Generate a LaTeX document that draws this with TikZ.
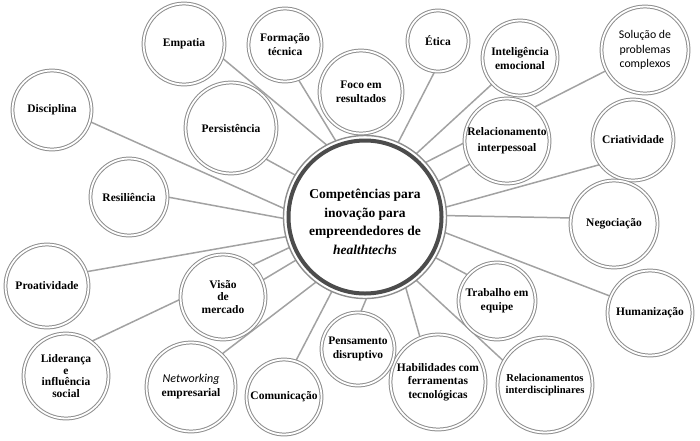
\documentclass[tikz,border=0pt]{standalone}
\usepackage{fontspec}
\setmainfont{Liberation Serif}
\newfontfamily\carlito{Carlito}
\usetikzlibrary{backgrounds}
\definecolor{ringgray}{HTML}{8E8E8E}
\definecolor{linkgray}{HTML}{A2A2A2}
\definecolor{darkring}{HTML}{4C4C4C}
\begin{document}
\begin{tikzpicture}[x=1pt,y=-1pt,
  comp/.style={circle, draw=ringgray, line width=1pt, double=white, double distance=1.8pt,
    fill=white, inner sep=0pt, outer sep=0pt, align=center,
    font=\fontsize{11.5}{14}\selectfont\bfseries, text=black},
  link/.style={draw=linkgray, line width=1.5pt}]
\useasboundingbox (0,0) rectangle (700,440);

% central circle
\node[circle, draw=ringgray, line width=1.4pt, fill=white, minimum size=163pt,
  inner sep=0pt, outer sep=0pt] (c) at (365,217) {};
\draw[darkring, line width=4pt] (c.center) circle[radius=76.5pt];
\node[font=\fontsize{13.5}{18.5}\selectfont\bfseries, align=center] (ct) at (365,222)
  {Competências para\\inovação para\\empreendedores de\\\textit{healthtechs}};

% outer circles
\node[comp, minimum size=81pt] (emp) at (184,44) {Empatia};
\node[comp, minimum size=73pt] (for) at (285,45) {Formação\\técnica};
\node[comp, minimum size=83pt] (foc) at (361,92) {Foco em\\resultados};
\node[comp, minimum size=79pt] (dis) at (52,110) {Disciplina};
\node[comp, minimum size=91pt] (per) at (231,128) {Persistência};
\node[comp, minimum size=77pt] (res) at (129,197) {Resiliência};
\node[comp, minimum size=61pt] (eti) at (438,41) {Ética};
\node[comp, minimum size=75pt] (int) at (520,58) {Inteligência\\emocional};
\node[comp, minimum size=87pt, font=\fontsize{11.8}{14.5}\selectfont\carlito\mdseries] (sol) at (645,50) {Solução de\\problemas\\complexos};
\node[comp, minimum size=85pt, font=\fontsize{11.5}{16}\selectfont\bfseries] (rel) at (507,141) {Relacionamento\\interpessoal};
\node[comp, minimum size=81pt] (cri) at (633,140) {Criatividade};
\node[comp, minimum size=87pt] (neg) at (614,224) {Negociação};
\node[comp, minimum size=85pt] (hum) at (650,313) {Humanização};
\node[comp, minimum size=77pt] (tra) at (497,301) {Trabalho em\\equipe};
\node[comp, minimum size=95pt, font=\fontsize{10.6}{12.5}\selectfont\bfseries] (rid) at (545,385) {Relacionamentos\\interdisciplinares};
\node[comp, minimum size=95pt, font=\fontsize{11.5}{13.3}\selectfont\bfseries] (hab) at (438,382) {Habilidades com\\ferramentas\\tecnológicas};
\node[comp, minimum size=73pt] (pen) at (358,349) {Pensamento\\disruptivo};
\node[comp, minimum size=75pt] (com) at (284,397) {Comunicação};
\node[comp, minimum size=89pt] (net) at (191,387) {{\fontsize{12}{14}\selectfont\carlito\mdseries\itshape Networking}\\empresarial};
\node[comp, minimum size=85pt, font=\fontsize{11.5}{11.8}\selectfont\bfseries] (lid) at (66,376) {Liderança\\e\\influência\\social};
\node[comp, minimum size=83pt] (pro) at (47,286) {Proatividade};
\node[comp, minimum size=85pt, font=\fontsize{11.5}{12.2}\selectfont\bfseries] (vis) at (223,297) {Visão\\de\\mercado};

% connectors
\begin{scope}[on background layer]
\draw[link] (emp.340) -- (c.118);
\draw[link] (for.291) -- (c.111);
\draw[link] (foc.272) -- (c.91);
\draw[link] (dis.343) -- (c.174);
\draw[link] (per.318) -- (c.149);
\draw[link] (res.0) -- (c.181);
\draw[link] (eti.264) -- (c.66);
\draw[link] (int.223) -- (c.51);
\draw[link] (sol.208) -- (c.42);
\draw[link] (rel.212) -- (c.26);
\draw[link] (cri.217) -- (c.7);
\draw[link] (neg.172) -- (c.1);
\draw[link] (hum.157) -- (c.349);
\draw[link] (tra.138) -- (c.330);
\draw[link] (rid.150) -- (c.309);
\draw[link] (hab.112) -- (c.300);
\draw[link] (pen.86) -- (c.271);
\draw[link] (com.72) -- (c.246);
\draw[link] (net.47) -- (c.233);
\draw[link] (lid.54) -- (c.202);
\draw[link] (pro.20) -- (c.194);
\draw[link] (vis.23) -- (c.212);
\end{scope}
\end{tikzpicture}
\end{document}
